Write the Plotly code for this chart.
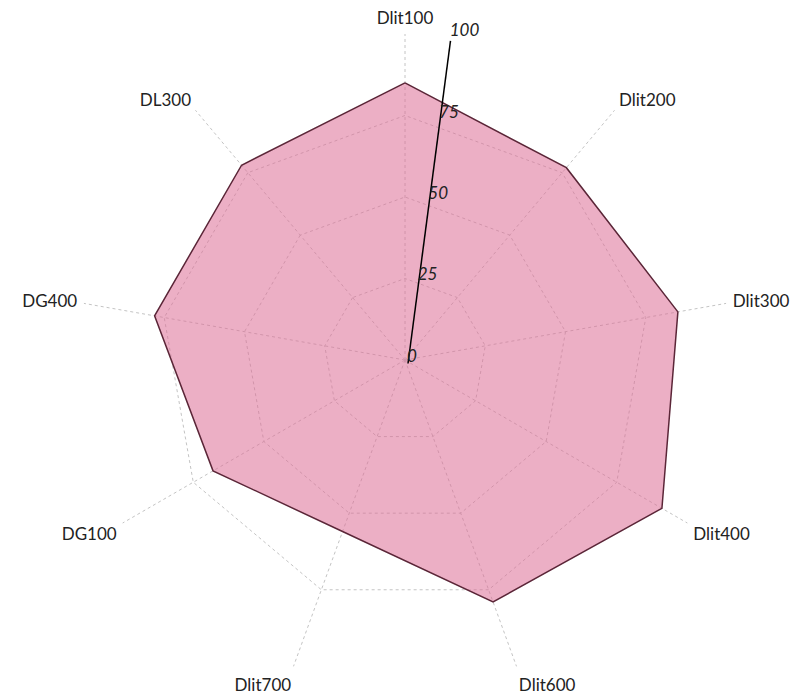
import plotly.graph_objects as go

# ── Dados ────────────────────────────────────────────────────────────────────
categorias = ["Dlit100", "Dlit200", "Dlit300", "Dlit400", "Dlit600",
              "Dlit700", "DG100", "DG400", "DL300"]
valores = [85, 77, 85, 91, 79, 56, 68, 78, 78]
ticks_radiais = [0, 25, 50, 75, 100]

# fecha o polígono
r_fechado = valores + valores[:1]
theta_fechado = categorias + categorias[:1]

W, H = 803, 698
GRADE = "#c4c4c4"


def _dom(x0, x1, topo, base):
  """Domínio em pixels (a partir do topo) -> fração do papel."""
  return dict(x=[x0 / W, x1 / W], y=[1 - base / H, 1 - topo / H])


fig = go.Figure()
fig.add_trace(go.Scatterpolar(
  r=r_fechado, theta=theta_fechado,
  fill="toself", mode="lines",
  fillcolor="rgba(220,110,150,0.55)",
  line=dict(color="#5b2638", width=1.5),
  showlegend=False, subplot="polar",
))

# eixo radial inclinado: subplots auxiliares transparentes
for sp in ("polar2", "polar3"):
  fig.add_trace(go.Scatterpolar(
    r=[0], theta=[0], mode="markers", marker=dict(opacity=0),
    showlegend=False, hoverinfo="skip", subplot=sp,
  ))

eixo_aux = dict(range=[0, 100], tickvals=ticks_radiais, angle=82.5,
                tickangle=82.5, showgrid=False, ticks="")

fig.update_layout(
  width=W, height=H,
  paper_bgcolor="white",
  margin=dict(l=0, r=0, t=0, b=0),
  font=dict(family="Lato, 'Open Sans', sans-serif", color="#222"),
  polar=dict(
    domain=_dom(71, 723, 26, 678),
    bgcolor="rgba(0,0,0,0)",
    gridshape="linear",
    radialaxis=dict(
      range=[0, 100], tickvals=ticks_radiais,
      showline=False, showticklabels=False, ticks="",
      gridcolor=GRADE, griddash="dot",
    ),
    angularaxis=dict(
      rotation=90, direction="clockwise",
      showline=False, gridcolor=GRADE, griddash="dot",
      ticks="outside", ticklen=3, tickcolor="rgba(0,0,0,0)",
      tickfont=dict(size=17, color="#222"),
    ),
  ),
  # linha do eixo radial
  polar2=dict(
    domain=_dom(74.5, 725.5, 30, 681),
    bgcolor="rgba(0,0,0,0)",
    radialaxis=dict(**eixo_aux, showline=True, linecolor="black",
                    linewidth=1.5, showticklabels=False),
    angularaxis=dict(visible=False, showgrid=False),
  ),
  # rótulos do eixo radial, encostados na linha
  polar3=dict(
    domain=_dom(62, 718, 16, 672),
    bgcolor="rgba(0,0,0,0)",
    radialaxis=dict(**eixo_aux, showline=False,
                    tickfont=dict(size=17, style="italic", color="#222")),
    angularaxis=dict(visible=False, showgrid=False),
  ),
)

fig.write_html("out.html")
